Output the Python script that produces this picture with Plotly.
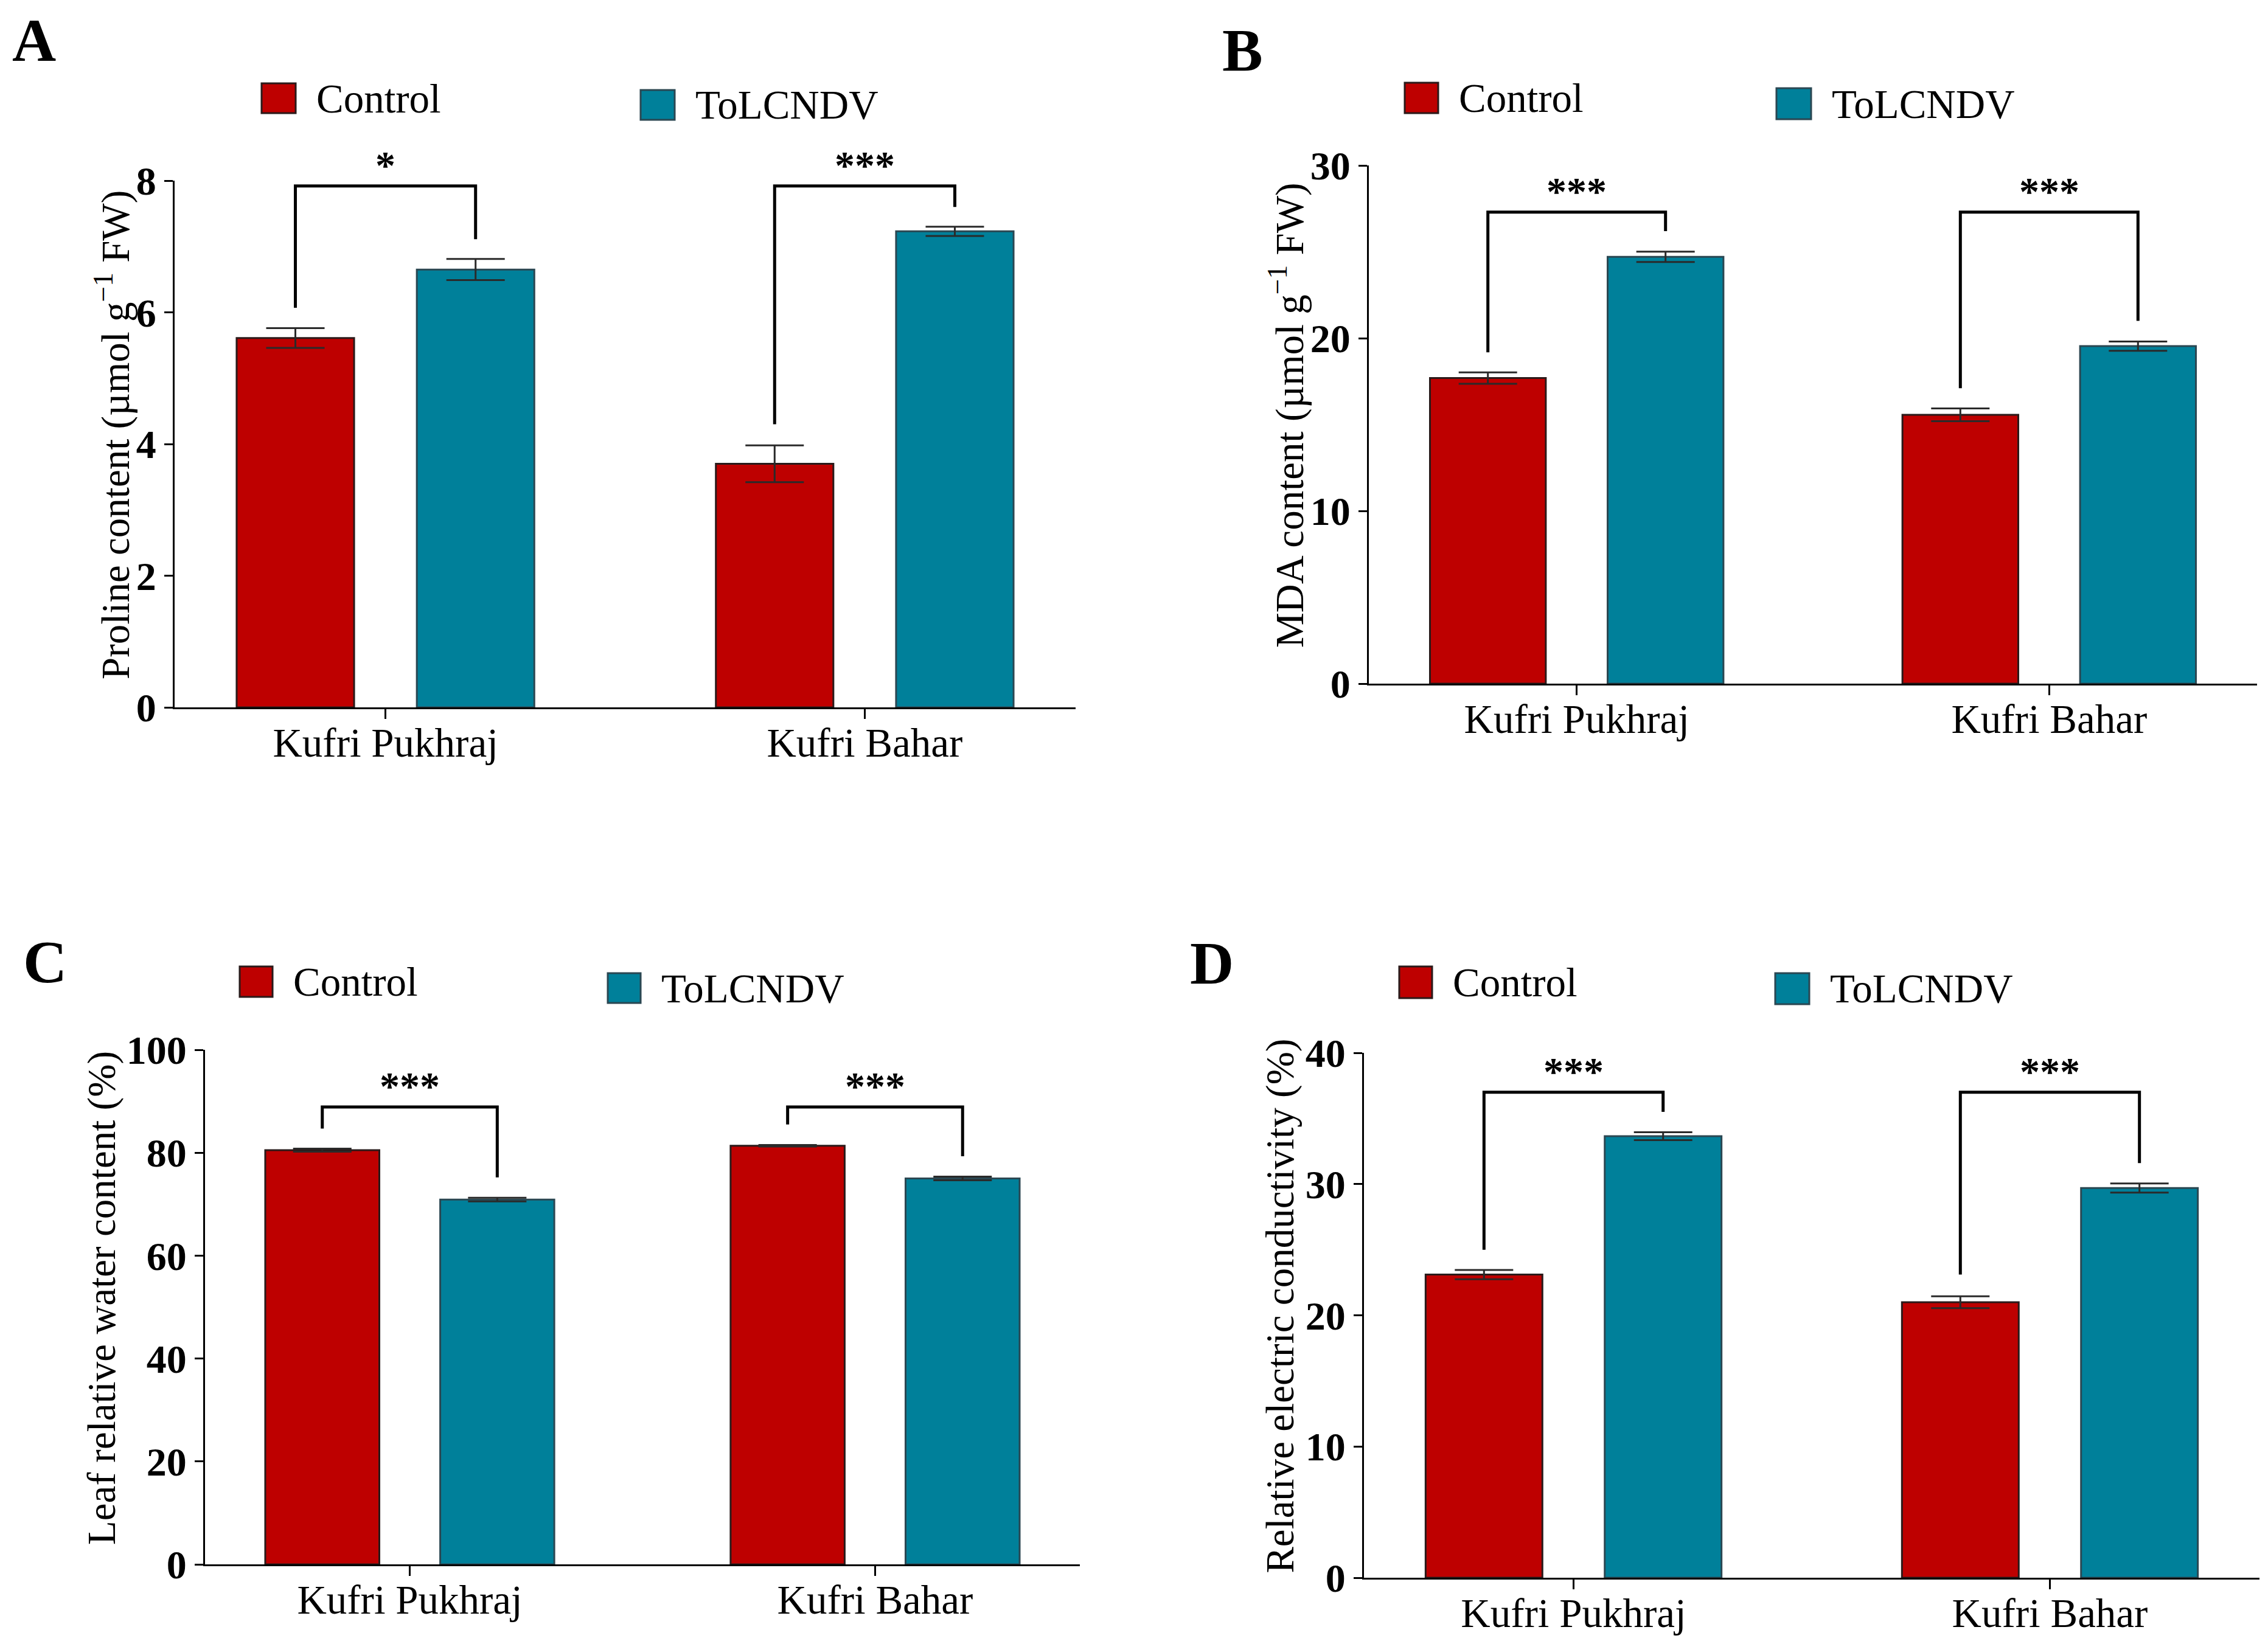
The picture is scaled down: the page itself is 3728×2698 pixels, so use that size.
import plotly.graph_objects as go

W, H = 3728, 2698
FONT = "Liberation Serif, Times New Roman, serif"

# ---------------- data ----------------
categories = ["Kufri Pukhraj", "Kufri Bahar"]
series_names = ["Control", "ToLCNDV"]

proline_control = [5.61, 3.70]
proline_control_err = [0.15, 0.28]
proline_tolcndv = [6.65, 7.23]
proline_tolcndv_err = [0.16, 0.07]
proline_ticks = [0, 2, 4, 6, 8]
proline_sig = ["*", "***"]
proline_bracket_top = [7.92, 7.92]
proline_bracket_left = [6.07, 4.30]
proline_bracket_right = [7.11, 7.60]

mda_control = [17.69, 15.56]
mda_control_err = [0.33, 0.37]
mda_tolcndv = [24.71, 19.54]
mda_tolcndv_err = [0.30, 0.27]
mda_ticks = [0, 10, 20, 30]
mda_sig = ["***", "***"]
mda_bracket_top = [27.3, 27.3]
mda_bracket_left = [19.18, 17.1]
mda_bracket_right = [26.2, 21.0]

rwc_control = [80.5, 81.35]
rwc_control_err = [0.3, 0.15]
rwc_tolcndv = [70.9, 75.0]
rwc_tolcndv_err = [0.35, 0.35]
rwc_ticks = [0, 20, 40, 60, 80, 100]
rwc_sig = ["***", "***"]
rwc_bracket_top = [88.9, 88.9]
rwc_bracket_left = [84.7, 85.5]
rwc_bracket_right = [75.2, 79.3]

rec_control = [23.1, 21.0]
rec_control_err = [0.35, 0.45]
rec_tolcndv = [33.65, 29.7]
rec_tolcndv_err = [0.30, 0.35]
rec_ticks = [0, 10, 20, 30, 40]
rec_sig = ["***", "***"]
rec_bracket_top = [37.0, 37.0]
rec_bracket_left = [25.0, 23.1]
rec_bracket_right = [35.5, 31.6]

y_titles = [
    "Proline content (µmol g<sup>−1</sup> FW)",
    "MDA content (µmol g<sup>−1</sup> FW)",
    "Leaf relative water content (%)",
    "Relative electric conductivity (%)",
]
panel_letters = ["A", "B", "C", "D"]

COL_CTRL = "#BE0000"
COL_TOL = "#00809A"
EDGE_CTRL = "#2a1a1a"
EDGE_TOL = "#2b4752"

# ---------------- layout geometry (pixels) ----------------
panels = [
    dict(x=(287, 1768), y=(297, 1163), title_x=185, letter=(18, 67),
         sq1=(430, 137, 486, 186), sq2=(1053, 148, 1109, 197)),
    dict(x=(2250, 3710), y=(272, 1124), title_x=2115, letter=(2007, 82),
         sq1=(2309, 136, 2364, 186), sq2=(2920, 145, 2977, 196)),
    dict(x=(337, 1775), y=(1726, 2572), title_x=167, letter=(36, 1581),
         sq1=(394, 1589, 448, 1639), sq2=(999, 1600, 1053, 1649)),
    dict(x=(2242, 3714), y=(1731, 2594), title_x=2103, letter=(1954, 1583),
         sq1=(2300, 1589, 2354, 1641), sq2=(2918, 1600, 2974, 1651)),
]

datasets = [
    (proline_control, proline_control_err, proline_tolcndv, proline_tolcndv_err,
     proline_ticks, proline_sig, proline_bracket_top, proline_bracket_left, proline_bracket_right),
    (mda_control, mda_control_err, mda_tolcndv, mda_tolcndv_err,
     mda_ticks, mda_sig, mda_bracket_top, mda_bracket_left, mda_bracket_right),
    (rwc_control, rwc_control_err, rwc_tolcndv, rwc_tolcndv_err,
     rwc_ticks, rwc_sig, rwc_bracket_top, rwc_bracket_left, rwc_bracket_right),
    (rec_control, rec_control_err, rec_tolcndv, rec_tolcndv_err,
     rec_ticks, rec_sig, rec_bracket_top, rec_bracket_left, rec_bracket_right),
]

BARGAP = 0.248
BARGROUPGAP = 0.348
OFF = (1 - BARGAP) / 4.0  # offset of bar centre from category centre

def px2x(p):
    return p / W

def px2y(p):
    return 1 - p / H

fig = go.Figure()
shapes = []
annotations = []
layout_axes = {}

for i, (pan, ds) in enumerate(zip(panels, datasets)):
    ctrl, ctrl_e, tol, tol_e, ticks, sig, btop, bleft, bright = ds
    n = i + 1
    xa = "x" if n == 1 else f"x{n}"
    ya = "y" if n == 1 else f"y{n}"
    xkey = "xaxis" if n == 1 else f"xaxis{n}"
    ykey = "yaxis" if n == 1 else f"yaxis{n}"

    for vals, errs, name, col, edge in [
        (ctrl, ctrl_e, series_names[0], COL_CTRL, EDGE_CTRL),
        (tol, tol_e, series_names[1], COL_TOL, EDGE_TOL),
    ]:
        fig.add_trace(go.Bar(
            x=categories, y=vals, name=name, xaxis=xa, yaxis=ya,
            marker=dict(color=col, line=dict(color=edge, width=3)),
            error_y=dict(type="data", array=errs, visible=True,
                         color="#2a2a2a", thickness=3, width=48),
            showlegend=False,
        ))

    layout_axes[xkey] = dict(
        domain=[px2x(pan["x"][0]), px2x(pan["x"][1])],
        anchor=ya, type="category", range=[-0.44, 1.44],
        showline=True, linecolor="black", linewidth=3,
        ticks="outside", ticklen=16, tickwidth=3, tickcolor="black",
        ticklabelstandoff=-18,
        tickfont=dict(family=FONT, size=67, color="black"),
        showgrid=False, zeroline=False, fixedrange=True, automargin=False,
    )
    layout_axes[ykey] = dict(
        domain=[px2y(pan["y"][1]), px2y(pan["y"][0])],
        anchor=xa, range=[0, ticks[-1]],
        tickmode="array", tickvals=ticks, ticktext=[str(t) for t in ticks],
        showline=True, linecolor="black", linewidth=3,
        ticks="outside", ticklen=14, tickwidth=3, tickcolor="black",
        tickfont=dict(family=FONT, size=66, color="black", weight="bold"),
        showgrid=False, zeroline=False, fixedrange=True, automargin=False,
    )

    # significance brackets
    for k in range(len(categories)):
        xl = k - OFF
        xr = k + OFF
        path = (f"M {xl} {bleft[k]} L {xl} {btop[k]} L {xr} {btop[k]} L {xr} {bright[k]}")
        shapes.append(dict(type="path", path=path, xref=xa, yref=ya,
                           line=dict(color="black", width=5)))
        annotations.append(dict(x=k, y=btop[k], xref=xa, yref=ya, text=sig[k],
                                showarrow=False, xanchor="center", yanchor="bottom",
                                yshift=-4,
                                font=dict(family=FONT, size=66, color="black", weight="bold")))

    # y title
    annotations.append(dict(x=px2x(pan["title_x"]), y=px2y((pan["y"][0] + pan["y"][1]) / 2 - 15),
                            xref="paper", yref="paper", text=y_titles[i], textangle=-90,
                            showarrow=False, xanchor="center", yanchor="middle",
                            font=dict(family=FONT, size=65, color="black")))
    # panel letter
    annotations.append(dict(x=px2x(pan["letter"][0]), y=px2y(pan["letter"][1]),
                            xref="paper", yref="paper", text=panel_letters[i],
                            showarrow=False, xanchor="left", yanchor="middle",
                            font=dict(family=FONT, size=100, color="black", weight="bold")))
    # legend
    for sq, col, edge, name in [(pan["sq1"], COL_CTRL, EDGE_CTRL, series_names[0]),
                                (pan["sq2"], COL_TOL, EDGE_TOL, series_names[1])]:
        x0, y0, x1, y1 = sq
        shapes.append(dict(type="rect", xref="paper", yref="paper",
                           x0=px2x(x0), x1=px2x(x1), y0=px2y(y1), y1=px2y(y0),
                           fillcolor=col, line=dict(color=edge, width=3)))
        annotations.append(dict(x=px2x(x1 + 32), y=px2y((y0 + y1) / 2),
                                xref="paper", yref="paper", text=name,
                                showarrow=False, xanchor="left", yanchor="middle",
                                font=dict(family=FONT, size=67, color="black")))

fig.update_layout(
    width=W, height=H,
    margin=dict(l=0, r=0, t=0, b=0, autoexpand=False),
    paper_bgcolor="white", plot_bgcolor="white",
    barmode="group", bargap=BARGAP, bargroupgap=BARGROUPGAP,
    shapes=shapes, annotations=annotations,
    font=dict(family=FONT, color="black"),
    showlegend=False,
    **layout_axes,
)

fig.write_html("out.html", config={"displayModeBar": False},
               post_script="document.body.style.margin='0';document.body.style.overflow='hidden';")
